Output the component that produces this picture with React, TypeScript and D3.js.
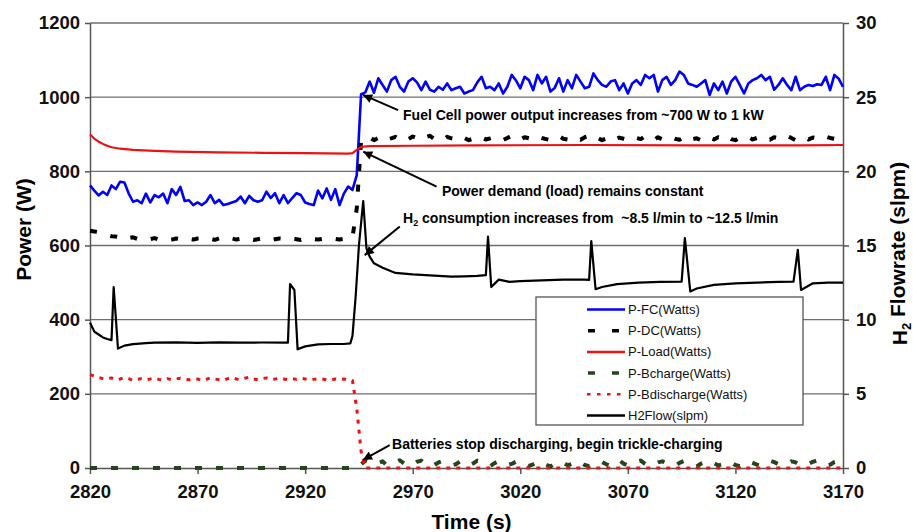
import React, { useRef, useEffect } from 'react';
import * as d3 from 'd3';

// sampling grid of the logged power channels (every 2 s)
const times = d3.range(2820, 3171, 2);

const pFC = [
  762, 748, 735, 745, 736, 762, 752, 772, 770, 740,
  718, 722, 714, 740, 716, 736, 730, 740, 714, 752,
  736, 758, 720, 722, 709, 716, 709, 718, 736, 714,
  723, 709, 712, 716, 720, 732, 714, 734, 722, 718,
  722, 745, 728, 741, 714, 736, 714, 728, 741, 736,
  716, 712, 709, 748, 727, 754, 723, 752, 709, 740,
  759, 750, 790, 1008, 1013, 1042, 1012, 1051, 1033, 1015,
  1046, 1055, 1028, 1015, 1042, 1051, 1040, 1019, 1042, 1020,
  1015, 1028, 1020, 1037, 1019, 1024, 1028, 1010, 1015, 1019,
  1040, 1055, 1024, 1028, 1019, 1037, 1010, 1028, 1060, 1045,
  1024, 1055, 1046, 1019, 1060, 1037, 1055, 1015, 1025, 1051,
  1015, 1046, 1024, 1060, 1042, 1024, 1028, 1064, 1046, 1033,
  1028, 1042, 1046, 1019, 1037, 1010, 1037, 1046, 1033, 1060,
  1051, 1060, 1015, 1046, 1055, 1033, 1046, 1069, 1060, 1037,
  1033, 1028, 1037, 1046, 1006, 1037, 1019, 1042, 1010, 1042,
  1055, 1033, 1010, 1037, 1046, 1051, 1060, 1046, 1055, 1020,
  1033, 1051, 1033, 1019, 1055, 1019, 1028, 1033, 1030, 1035,
  1033, 1055, 1019, 1060, 1050, 1028,
];

const pDC = [
  640, 638, 636, 632, 628, 625, 624, 622, 626, 620,
  622, 618, 621, 619, 617, 620, 616, 618, 615, 616,
  619, 617, 620, 618, 616, 619, 620, 617, 618, 615,
  619, 621, 617, 619, 616, 618, 620, 618, 615, 617,
  619, 616, 614, 617, 619, 618, 616, 619, 617, 615,
  618, 620, 617, 616, 618, 619, 617, 618, 616, 618,
  619, 622, 700, 884,
  888, 892, 884, 890, 895, 886, 889, 893, 885, 891,
  887, 894, 889, 884, 892, 896, 887, 890, 885, 893,
  889, 886, 894, 890, 884, 888, 895, 891, 886, 889,
  893, 887, 884, 890, 896, 888, 885, 892, 889, 886,
  894, 890, 887, 884, 891, 895, 888, 886, 893, 889,
  885, 892, 896, 887, 890, 884, 889, 894, 886, 891,
  888, 885, 893, 890, 887, 895, 889, 884, 892, 886,
  890, 894, 888, 885, 891, 896, 887, 889, 884, 893,
  890, 886, 892, 888, 895, 887, 884, 891, 889, 893,
  886, 890, 894, 888, 885, 892, 889, 887, 895, 890,
  884, 888, 893, 886, 891, 889, 887, 894, 890, 888,
  892, 889,
];

const pBcharge = [
  0, 0, 0, 0, 0, 0, 0, 0, 0, 0,
  0, 0, 0, 0, 0, 0, 0, 0, 0, 0,
  0, 0, 0, 0, 0, 0, 0, 0, 0, 0,
  0, 0, 0, 0, 0, 0, 0, 0, 0, 0,
  0, 0, 0, 0, 0, 0, 0, 0, 0, 0,
  0, 0, 0, 0, 0, 0, 0, 0, 0, 0,
  0, 0, 0, 10,
  20, 16, 9, 13, 18, 7, 11, 16, 21, 12,
  5, 9, 17, 20, 11, 4, 8, 15, 19, 13,
  7, 10, 18, 14, 6, 12, 20, 16, 9, 5,
  13, 19, 15, 8, 11, 17, 21, 12, 6, 10,
  16, 19, 9, 4, 12, 18, 14, 7, 11, 20,
  15, 8, 5, 13, 19, 16, 10, 6, 14, 21,
  12, 7, 9, 17, 20, 11, 5, 10, 15, 18,
  13, 8, 6, 14, 19, 16, 9, 4, 12, 17,
  21, 13, 7, 10, 18, 15, 8, 5, 11, 19,
  14, 9, 6, 13, 20, 16, 10, 7, 12, 18,
  15, 8, 5, 11, 17, 20, 12, 6, 9, 16,
  19, 13,
];

const pBdischarge = [
  252, 248, 244, 241, 240, 243, 238, 240, 244, 241,
  236, 239, 241, 238, 240, 243, 239, 237, 241, 238,
  240, 242, 239, 238, 241, 240, 236, 239, 243, 240,
  238, 236, 241, 244, 240, 238, 242, 245, 240, 238,
  241, 243, 239, 240, 242, 240, 238, 241, 239, 242,
  240, 237, 239, 241, 240, 238, 237, 240, 239, 240,
  238, 236, 160, 45,
  0, 0, 0, 0, 0, 0, 0, 0, 0, 0,
  0, 0, 0, 0, 0, 0, 0, 0, 0, 0,
  0, 0, 0, 0, 0, 0, 0, 0, 0, 0,
  0, 0, 0, 0, 0, 0, 0, 0, 0, 0,
  0, 0, 0, 0, 0, 0, 0, 0, 0, 0,
  0, 0, 0, 0, 0, 0, 0, 0, 0, 0,
  0, 0, 0, 0, 0, 0, 0, 0, 0, 0,
  0, 0, 0, 0, 0, 0, 0, 0, 0, 0,
  0, 0, 0, 0, 0, 0, 0, 0, 0, 0,
  0, 0, 0, 0, 0, 0, 0, 0, 0, 0,
  0, 0, 0, 0, 0, 0, 0, 0, 0, 0,
  0, 0,
];

const loadTimes = [2820, 2822, 2824, 2826, 2828, 2830, 2834, 2840, 2850, 2860, 2880, 2900, 2920, 2940, 2942, 2944, 2946, 2950, 2970, 3000, 3050, 3100, 3150, 3170];
const pLoad = [900, 888, 880, 874, 869, 865, 861, 858, 855, 853, 851, 850, 849, 848, 849, 858, 866, 868, 869, 870, 871, 870, 870, 871];

const h2Times = [
  2820, 2822, 2824, 2826, 2828, 2830, 2831, 2833, 2836, 2840, 2846, 2850, 2860, 2870, 2880, 2890, 2900, 2910, 2912,
  2913, 2915, 2916.5, 2920, 2926, 2932, 2938, 2941, 2942, 2943.5, 2945, 2947, 2948.5, 2950, 2952, 2956, 2962,
  2970, 2976, 2982, 2988, 2994, 3000, 3004, 3005, 3006.5, 3010, 3015, 3020, 3030, 3040, 3050, 3052,
  3053, 3055, 3058, 3065, 3075, 3085, 3095, 3096.5, 3099, 3102, 3110, 3120, 3130, 3140, 3147,
  3149, 3150.5, 3156, 3163, 3170,
];
const h2Flow = [
  9.8, 9.2, 9.0, 8.8, 8.7, 8.62, 12.2, 8.05, 8.25, 8.35, 8.42, 8.45, 8.47, 8.44, 8.47, 8.45, 8.46, 8.45, 8.45,
  12.4, 12.0, 8.0, 8.2, 8.33, 8.36, 8.36, 8.4, 8.9, 11.6, 15.0, 18.0, 14.8, 14.25, 13.8, 13.5, 13.15,
  13.05, 13.0, 12.95, 12.9, 12.92, 12.95, 13.0, 15.6, 12.2, 12.7, 12.55, 12.6, 12.65, 12.7, 12.7, 12.68,
  15.3, 12.05, 12.2, 12.4, 12.5, 12.55, 12.56, 15.5, 11.9, 12.1, 12.35, 12.45, 12.5, 12.55, 12.56,
  14.7, 12.0, 12.45, 12.5, 12.5,
];

const xTicks = [2820, 2870, 2920, 2970, 3020, 3070, 3120, 3170];
const powerTicks = [0, 200, 400, 600, 800, 1000, 1200];
const flowTicks = [0, 5, 10, 15, 20, 25, 30];

const legendLabels = ['P-FC(Watts)', 'P-DC(Watts)', 'P-Load(Watts)', 'P-Bcharge(Watts)', 'P-Bdischarge(Watts)', 'H2Flow(slpm)'];

// arrow tip / tail and text anchor in (time, watts)
const notes = [
  { text: 'Fuel Cell power output increases from ~700 W to 1 kW', tip: [2946.9, 1006], tail: [2963.2, 965], at: [2965.5, 952] },
  { text: 'Power demand (load) remains constant', tip: [2947, 853], tail: [2981.1, 759], at: [2983.6, 747] },
  { text: 'H2 consumption increases from  ~8.5 l/min to ~12.5 l/min', tip: [2947.7, 574], tail: [2964, 651], at: [2965.5, 674] },
  { text: 'Batteries stop discharging, begin trickle-charging', tip: [2946.9, 22], tail: [2959.3, 62], at: [2960.4, 65] },
];

const FONT = '"Liberation Sans", Arial, Helvetica, sans-serif';

const App = () => {
  const svgRef = useRef(null);
  const width = 913;
  const height = 532;
  const margin = { left: 90, right: 70, top: 23, bottom: 64 };

  useEffect(() => {
    const svg = d3.select(svgRef.current);
    svg.selectAll('*').remove();

    const x = d3.scaleLinear().domain([2820, 3170]).range([margin.left, width - margin.right]);
    const yP = d3.scaleLinear().domain([0, 1200]).range([height - margin.bottom, margin.top]);
    const yF = d3.scaleLinear().domain([0, 30]).range([height - margin.bottom, margin.top]);

    const defs = svg.append('defs');
    defs.append('marker')
      .attr('id', 'arrow')
      .attr('viewBox', '0 0 10 10')
      .attr('refX', 10).attr('refY', 5)
      .attr('markerWidth', 11).attr('markerHeight', 9)
      .attr('markerUnits', 'userSpaceOnUse')
      .attr('orient', 'auto')
      .append('path').attr('d', 'M0,0 L10,5 L0,10 z').attr('fill', '#000');

    // gridlines
    svg.append('g')
      .selectAll('line')
      .data(powerTicks.filter((d) => d > 0))
      .enter().append('line')
      .attr('x1', x(2820)).attr('x2', x(3170))
      .attr('y1', (d) => yP(d)).attr('y2', (d) => yP(d))
      .attr('stroke', '#6e6e6e').attr('stroke-width', 1.3);

    const styleAxis = (g) => {
      g.select('.domain').attr('stroke', '#555').attr('stroke-width', 1.5);
      g.selectAll('line').attr('stroke', '#555').attr('stroke-width', 1.5);
      g.selectAll('text')
        .attr('font-family', FONT)
        .attr('font-size', 18.5)
        .attr('font-weight', 'bold')
        .attr('fill', '#111');
    };

    const fmt = d3.format('d');

    const xAxis = d3.axisBottom(x).tickValues(xTicks).tickSize(6).tickSizeOuter(0).tickPadding(11).tickFormat(fmt);
    svg.append('g').attr('transform', `translate(0,${yP(0)})`).call(xAxis).call(styleAxis);

    const yAxisL = d3.axisLeft(yP).tickValues(powerTicks).tickSize(5).tickSizeOuter(0).tickPadding(5).tickFormat(fmt);
    svg.append('g').attr('transform', `translate(${x(2820)},0)`).call(yAxisL).call(styleAxis);

    const yAxisR = d3.axisRight(yF).tickValues(flowTicks).tickSize(6).tickSizeOuter(0).tickPadding(7).tickFormat(fmt);
    svg.append('g').attr('transform', `translate(${x(3170)},0)`).call(yAxisR).call(styleAxis);

    const linePow = d3.line().x((d) => x(d[0])).y((d) => yP(d[1]));
    const lineFlow = d3.line().x((d) => x(d[0])).y((d) => yF(d[1]));

    const series = [
      { pts: times.map((t, i) => [t, pFC[i]]), gen: linePow, color: '#0000ff', w: 2.6, dash: null },
      { pts: times.map((t, i) => [t, pDC[i]]), gen: linePow, color: '#000', w: 4, dash: '7,14' },
      { pts: loadTimes.map((t, i) => [t, pLoad[i]]), gen: linePow, color: '#ee1111', w: 2.2, dash: null },
      { pts: times.map((t, i) => [t, pBcharge[i]]), gen: linePow, color: '#24461c', w: 4, dash: '7,14' },
      { pts: times.map((t, i) => [t, pBdischarge[i]]), gen: linePow, color: '#ee1111', w: 3, dash: '4,6' },
      { pts: h2Times.map((t, i) => [t, h2Flow[i]]), gen: lineFlow, color: '#000', w: 2.2, dash: null },
    ];

    series.forEach((s) => {
      svg.append('path')
        .attr('d', s.gen(s.pts))
        .attr('fill', 'none')
        .attr('stroke', s.color)
        .attr('stroke-width', s.w)
        .attr('stroke-linejoin', 'round')
        .attr('stroke-dasharray', s.dash);
    });

    // annotations
    notes.forEach((n) => {
      svg.append('line')
        .attr('x1', x(n.tail[0])).attr('y1', yP(n.tail[1]))
        .attr('x2', x(n.tip[0])).attr('y2', yP(n.tip[1]))
        .attr('stroke', '#000').attr('stroke-width', 2)
        .attr('marker-end', 'url(#arrow)');
      const t = svg.append('text')
        .attr('x', x(n.at[0])).attr('y', yP(n.at[1]))
        .attr('dy', '0.35em')
        .attr('font-family', FONT).attr('font-size', 14).attr('font-weight', 'bold')
        .style('white-space', 'pre');
      if (n.text.startsWith('H2')) {
        t.append('tspan').text('H');
        t.append('tspan').attr('font-size', 9).attr('dy', '0.35em').text('2');
        t.append('tspan').attr('dy', '-0.25em').text(n.text.slice(2));
      } else {
        t.text(n.text);
      }
    });

    // legend
    const lg = svg.append('g');
    lg.append('rect')
      .attr('x', 536).attr('y', 297).attr('width', 267).attr('height', 128)
      .attr('fill', '#fff').attr('stroke', '#555').attr('stroke-width', 1.3);
    series.forEach((s, i) => {
      const yy = 309.5 + i * 21.2;
      lg.append('line')
        .attr('x1', 587).attr('x2', 625).attr('y1', yy).attr('y2', yy)
        .attr('stroke', s.color).attr('stroke-width', s.dash ? s.w - 0.5 : 2.5)
        .attr('stroke-dasharray', s.dash === '7,14' ? '7,17' : s.dash === '4,6' ? '3.5,6.5' : null)
        .attr('stroke-dashoffset', s.dash === '7,14' ? -1 : 0);
      lg.append('text')
        .attr('x', 628).attr('y', yy).attr('dy', '0.35em')
        .attr('font-family', FONT).attr('font-size', 13).attr('fill', '#111')
        .text(legendLabels[i]);
    });

    // axis titles
    svg.append('text')
      .attr('transform', `translate(24,${(yP(0) + yP(1200)) / 2 - 16}) rotate(-90)`)
      .attr('text-anchor', 'middle').attr('dy', '0.35em')
      .attr('font-family', FONT).attr('font-size', 21).attr('font-weight', 'bold')
      .text('Power (W)');

    const rt = svg.append('text')
      .attr('transform', `translate(900,${(yF(0) + yF(30)) / 2 + 8}) rotate(-90)`)
      .attr('text-anchor', 'middle').attr('dy', '0.35em')
      .attr('font-family', FONT).attr('font-size', 21).attr('font-weight', 'bold');
    rt.append('tspan').text('H');
    rt.append('tspan').attr('font-size', 13).attr('dy', '0.3em').text('2');
    rt.append('tspan').attr('dy', '-0.3em').text(' Flowrate (slpm)');

    svg.append('text')
      .attr('x', (x(2820) + x(3170)) / 2 + 5).attr('y', 522).attr('dy', '0.35em')
      .attr('text-anchor', 'middle')
      .attr('font-family', FONT).attr('font-size', 21).attr('font-weight', 'bold')
      .text('Time (s)');
  }, []);

  return (
    <svg
      ref={svgRef}
      width={width}
      height={height}
      style={{ position: 'absolute', left: 0, top: 0, background: '#fff' }}
    />
  );
};

export default App;
